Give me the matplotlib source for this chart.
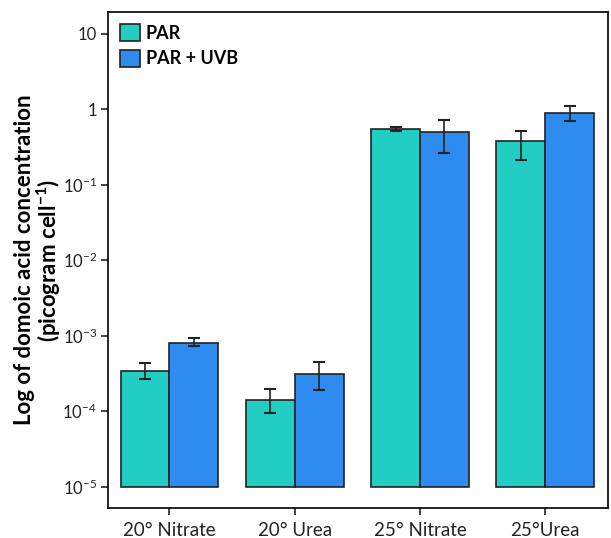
import matplotlib.pyplot as plt
import numpy as np
from matplotlib.ticker import FixedLocator, FuncFormatter, NullLocator

# 数据
groups = ['20° Nitrate', '20° Urea', '25° Nitrate', '25°Urea']
par = [3.45e-4, 1.42e-4, 0.547, 0.375]
par_lo = [2.7e-4, 9.3e-5, 0.51, 0.216]
par_hi = [4.4e-4, 1.94e-4, 0.59, 0.52]
uvb = [8.1e-4, 3.11e-4, 0.508, 0.89]
uvb_lo = [7.2e-4, 1.93e-4, 0.26, 0.69]
uvb_hi = [9.3e-4, 4.43e-4, 0.733, 1.12]
series_names = ['PAR', 'PAR + UVB']
ytick_vals = [1e-5, 1e-4, 1e-3, 1e-2, 1e-1, 1, 10]

plt.rcParams['font.family'] = ['Lato', 'DejaVu Sans']
plt.rcParams['mathtext.fontset'] = 'custom'
plt.rcParams['mathtext.rm'] = 'Lato'
plt.rcParams['mathtext.bf'] = 'Lato:bold'
plt.rcParams['axes.linewidth'] = 1.2

fig = plt.figure(figsize=(6.11, 5.38), dpi=100)
ax = fig.add_axes([0.1768, 0.0558, 0.818, 0.9219])

x = np.arange(len(groups))
w = 0.39
base = 1e-5
c_par = '#22CDC4'
c_uvb = '#2E8BF0'

par = np.array(par); uvb = np.array(uvb)
err_par = [par - np.array(par_lo), np.array(par_hi) - par]
err_uvb = [uvb - np.array(uvb_lo), np.array(uvb_hi) - uvb]

ax.bar(x - w / 2, par - base, w, bottom=base, color=c_par, edgecolor='#222222',
       linewidth=1.2, label=series_names[0])
ax.bar(x + w / 2, uvb - base, w, bottom=base, color=c_uvb, edgecolor='#222222',
       linewidth=1.2, label=series_names[1])
ax.errorbar(x - w / 2, par, yerr=err_par, fmt='none', ecolor='#222222',
            elinewidth=1.2, capsize=4, capthick=1.5)
ax.errorbar(x + w / 2, uvb, yerr=err_uvb, fmt='none', ecolor='#222222',
            elinewidth=1.2, capsize=4, capthick=1.5)

ax.set_yscale('log')
ax.set_ylim(5.2e-6, 19.5)
ax.set_xlim(-0.49, 3.5)


def fmt(v, pos):
    e = int(round(np.log10(v)))
    if e == 0:
        return '1'
    if e == 1:
        return '10'
    return r'$\mathregular{10^{%d}}$' % e


ax.yaxis.set_major_locator(FixedLocator(ytick_vals))
ax.yaxis.set_major_formatter(FuncFormatter(fmt))
ax.yaxis.set_minor_locator(NullLocator())
ax.set_xticks(x)
ax.set_xticklabels(groups)
ax.tick_params(direction='out', length=5, width=1.2, colors='#222222')
ax.tick_params(axis='y', pad=3, labelsize=12)
ax.tick_params(axis='x', pad=5, labelsize=13.5)

ax.set_ylabel('Log of domoic acid concentration\n' + r'(picogram cell$\mathbf{^{-1}}$)',
              fontsize=16, fontweight='bold', linespacing=1.0)
ax.yaxis.set_label_coords(-0.09, 0.5)

ax.legend(loc='upper left', frameon=False, prop={'weight': 'bold', 'size': 13},
          handlelength=1.1, handleheight=1.1, handletextpad=0.35, borderaxespad=0.35,
          labelspacing=0.45, borderpad=0.3)

plt.savefig('out.png', dpi=100)
